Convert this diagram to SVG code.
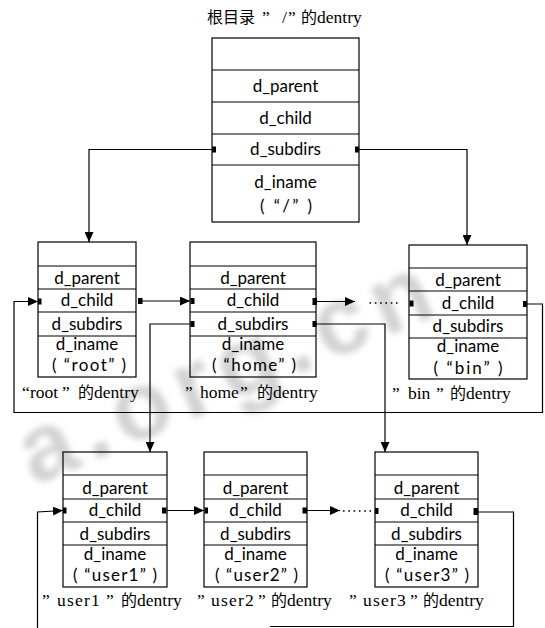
<svg xmlns="http://www.w3.org/2000/svg" width="545" height="628" viewBox="0 0 545 628">
  <style>
    .frame { fill: none; stroke: #000; stroke-width: 1.2; }
    .sep { stroke: #000; stroke-width: 1.2; }
    .f { font-family: Lato, "Liberation Sans", sans-serif; font-size: 17px; fill: #000; text-anchor: middle; }
    .cap { font-family: "Liberation Serif", "Noto Sans CJK SC", serif; font-size: 17.5px; fill: #000; }
    .cjk { font-family: "Noto Sans CJK SC", sans-serif; font-size: 16px; }
    .sp { letter-spacing: 1.2px; }
    .wire { fill: none; stroke: #000; stroke-width: 1.2; }
    .dots { fill: none; stroke: #000; stroke-width: 1.6; stroke-dasharray: 1.6 3.7; }
    .pin { fill: #000; }
  </style>
  <defs>
    <marker id="arrow" markerUnits="userSpaceOnUse" markerWidth="10" markerHeight="9" refX="10" refY="4.5" orient="auto">
      <path d="M0,0 L10,4.5 L0,9 Z" fill="#000"/>
    </marker>
    <filter id="soft" x="-20%" y="-60%" width="140%" height="220%">
      <feGaussianBlur stdDeviation="3"/>
    </filter>
  </defs>

  <rect width="545" height="628" fill="#fff"/>

  <!-- faint site watermark behind the diagram -->
  <g id="watermark" filter="url(#soft)">
    <text transform="translate(34,486) rotate(-23)" font-family="Liberation Sans, sans-serif" font-weight="bold" font-size="96" fill="#8c8c8c" opacity="0.38" textLength="440" lengthAdjust="spacing">a.org.cn</text>
  </g>

  <!-- title -->
  <text class="cap" y="23"><tspan class="cjk" x="207" font-size="17">根目录</tspan><tspan x="262">”</tspan><tspan x="282">/</tspan><tspan x="288">”</tspan><tspan class="cjk" x="301" font-size="17">的</tspan><tspan x="317">dentry</tspan></text>

  <!-- root directory dentry -->
  <g id="dentry-slash">
    <rect class="frame" x="212" y="38" width="147" height="184"/>
    <line class="sep" x1="212" y1="70" x2="359" y2="70"/>
    <line class="sep" x1="212" y1="102" x2="359" y2="102"/>
    <line class="sep" x1="212" y1="134" x2="359" y2="134"/>
    <line class="sep" x1="212" y1="165" x2="359" y2="165"/>
    <text class="f" x="285.5" y="91.5">d_parent</text>
    <text class="f" x="285.5" y="123.5">d_child</text>
    <text class="f" x="285.5" y="155">d_subdirs</text>
    <text class="f" x="285.5" y="188">d_iname</text>
    <text class="f" x="286" y="212" textLength="52" lengthAdjust="spacing">( “/” )</text>
  </g>

  <!-- "root" -->
  <g id="dentry-root">
    <rect class="frame" x="38" y="242" width="98" height="135"/>
    <line class="sep" x1="38" y1="266" x2="136" y2="266"/>
    <line class="sep" x1="38" y1="289" x2="136" y2="289"/>
    <line class="sep" x1="38" y1="312" x2="136" y2="312"/>
    <line class="sep" x1="38" y1="336" x2="136" y2="336"/>
    <text class="f" x="87" y="283.5">d_parent</text>
    <text class="f" x="87" y="306">d_child</text>
    <text class="f" x="87" y="329.5">d_subdirs</text>
    <text class="f" x="87" y="349.5">d_iname</text>
    <text class="f" x="89" y="371" textLength="74" lengthAdjust="spacing">( “root” )</text>
    <text class="cap" y="398"><tspan x="22">“</tspan><tspan x="30">root</tspan><tspan x="62">”</tspan><tspan class="cjk" x="78">的</tspan><tspan x="94">dentry</tspan></text>
  </g>

  <!-- "home" -->
  <g id="dentry-home">
    <rect class="frame" x="190" y="242" width="126" height="135"/>
    <line class="sep" x1="190" y1="266" x2="316" y2="266"/>
    <line class="sep" x1="190" y1="289" x2="316" y2="289"/>
    <line class="sep" x1="190" y1="312" x2="316" y2="312"/>
    <line class="sep" x1="190" y1="336" x2="316" y2="336"/>
    <text class="f" x="253" y="283.5">d_parent</text>
    <text class="f" x="253" y="306">d_child</text>
    <text class="f" x="253" y="329.5">d_subdirs</text>
    <text class="f" x="253" y="349.5">d_iname</text>
    <text class="f" x="254" y="371" textLength="84" lengthAdjust="spacing">( “home” )</text>
    <text class="cap" y="398"><tspan x="185">”</tspan><tspan x="200">home</tspan><tspan x="240">”</tspan><tspan class="cjk" x="257">的</tspan><tspan x="273">dentry</tspan></text>
  </g>

  <!-- "bin" -->
  <g id="dentry-bin">
    <rect class="frame" x="409" y="245" width="118" height="134"/>
    <line class="sep" x1="409" y1="268" x2="527" y2="268"/>
    <line class="sep" x1="409" y1="291" x2="527" y2="291"/>
    <line class="sep" x1="409" y1="315" x2="527" y2="315"/>
    <line class="sep" x1="409" y1="338" x2="527" y2="338"/>
    <text class="f" x="468" y="286">d_parent</text>
    <text class="f" x="468" y="308.5">d_child</text>
    <text class="f" x="468" y="332">d_subdirs</text>
    <text class="f" x="468" y="352">d_iname</text>
    <text class="f" x="468" y="374" textLength="69" lengthAdjust="spacing">( “bin” )</text>
    <text class="cap" y="399"><tspan x="392">”</tspan><tspan x="408">bin</tspan><tspan x="436">”</tspan><tspan class="cjk" x="450">的</tspan><tspan x="466">dentry</tspan></text>
  </g>

  <!-- "user1" -->
  <g id="dentry-user1">
    <rect class="frame" x="63" y="452" width="104" height="135"/>
    <line class="sep" x1="63" y1="475" x2="167" y2="475"/>
    <line class="sep" x1="63" y1="499" x2="167" y2="499"/>
    <line class="sep" x1="63" y1="522" x2="167" y2="522"/>
    <line class="sep" x1="63" y1="545" x2="167" y2="545"/>
    <text class="f" x="115" y="493.5">d_parent</text>
    <text class="f" x="115" y="516">d_child</text>
    <text class="f" x="115" y="539.5">d_subdirs</text>
    <text class="f" x="115" y="559.5">d_iname</text>
    <text class="f" x="115" y="581" textLength="84" lengthAdjust="spacing">( “user1” )</text>
    <text class="cap" y="606"><tspan x="42">”</tspan><tspan class="sp" x="57">user1</tspan><tspan x="106">”</tspan><tspan class="cjk" x="121">的</tspan><tspan x="137">dentry</tspan></text>
  </g>

  <!-- "user2" -->
  <g id="dentry-user2">
    <rect class="frame" x="204" y="452" width="103" height="135"/>
    <line class="sep" x1="204" y1="475" x2="307" y2="475"/>
    <line class="sep" x1="204" y1="499" x2="307" y2="499"/>
    <line class="sep" x1="204" y1="522" x2="307" y2="522"/>
    <line class="sep" x1="204" y1="545" x2="307" y2="545"/>
    <text class="f" x="255.5" y="493.5">d_parent</text>
    <text class="f" x="255.5" y="516">d_child</text>
    <text class="f" x="255.5" y="539.5">d_subdirs</text>
    <text class="f" x="255.5" y="559.5">d_iname</text>
    <text class="f" x="256.5" y="581" textLength="83" lengthAdjust="spacing">( “user2” )</text>
    <text class="cap" y="606"><tspan x="197">”</tspan><tspan class="sp" x="211">user2</tspan><tspan x="258">”</tspan><tspan class="cjk" x="271">的</tspan><tspan x="287">dentry</tspan></text>
  </g>

  <!-- "user3" -->
  <g id="dentry-user3">
    <rect class="frame" x="375" y="452" width="103" height="135"/>
    <line class="sep" x1="375" y1="475" x2="478" y2="475"/>
    <line class="sep" x1="375" y1="499" x2="478" y2="499"/>
    <line class="sep" x1="375" y1="522" x2="478" y2="522"/>
    <line class="sep" x1="375" y1="545" x2="478" y2="545"/>
    <text class="f" x="426.5" y="493.5">d_parent</text>
    <text class="f" x="426.5" y="516">d_child</text>
    <text class="f" x="426.5" y="539.5">d_subdirs</text>
    <text class="f" x="426.5" y="559.5">d_iname</text>
    <text class="f" x="427" y="581" textLength="84" lengthAdjust="spacing">( “user3” )</text>
    <text class="cap" y="606"><tspan x="349">”</tspan><tspan class="sp" x="363">user3</tspan><tspan x="410">”</tspan><tspan class="cjk" x="423">的</tspan><tspan x="439">dentry</tspan></text>
  </g>

  <!-- list links between dentries -->
  <g id="connectors">
    <!-- d_subdirs of "/" to its first and last children -->
    <path class="wire" d="M212,149.5 H89 V242" marker-end="url(#arrow)"/>
    <path class="wire" d="M359,149.5 H467 V245" marker-end="url(#arrow)"/>
    <rect class="pin" x="212" y="146.5" width="4" height="6"/>
    <rect class="pin" x="355" y="146.5" width="4" height="6"/>

    <!-- sibling chain: root -> home -> ... -> bin -> back to root -->
    <path class="wire" d="M141,301 H190" marker-end="url(#arrow)"/>
    <rect class="pin" x="138" y="298" width="4.5" height="6"/>
    <rect class="pin" x="190.5" y="298" width="4" height="6"/>
    <path class="wire" d="M316,301.5 H355" marker-end="url(#arrow)"/>
    <rect class="pin" x="312.5" y="298" width="4.5" height="7"/>
    <path class="dots" d="M369.5,303 H401"/>
    <rect class="pin" x="409.5" y="300.5" width="4" height="6"/>
    <rect class="pin" x="523" y="301" width="4" height="6"/>
    <path class="wire" d="M527,304 H542.5 V412.5 H14 V301.5 H38" marker-end="url(#arrow)"/>
    <rect class="pin" x="38" y="298.5" width="3.5" height="6"/>

    <!-- d_subdirs of "home" to its first and last children -->
    <path class="wire" d="M190,324 H150 V452" marker-end="url(#arrow)"/>
    <path class="wire" d="M316,324 H385 V452" marker-end="url(#arrow)"/>
    <rect class="pin" x="190.5" y="321" width="4" height="6"/>
    <rect class="pin" x="312.5" y="321" width="4" height="6"/>

    <!-- sibling chain: user1 -> user2 -> ... -> user3 -> back to user1 -->
    <path class="wire" d="M37.5,628 V512 L63,510.5" marker-end="url(#arrow)"/>
    <rect class="pin" x="63" y="507.5" width="3.5" height="6"/>
    <path class="wire" d="M167,510.5 H204" marker-end="url(#arrow)"/>
    <rect class="pin" x="162" y="507.5" width="4.5" height="6"/>
    <rect class="pin" x="204.5" y="507.5" width="3.5" height="6"/>
    <path class="wire" d="M307,510.5 H340" marker-end="url(#arrow)"/>
    <rect class="pin" x="302.5" y="507.5" width="4.5" height="6"/>
    <path class="dots" d="M343,511 H374"/>
    <rect class="pin" x="375" y="508" width="3.5" height="6"/>
    <rect class="pin" x="473.5" y="508" width="4.5" height="7"/>
    <path class="wire" d="M478,512 H513.5 V626.5 H270"/>
  </g>
</svg>
